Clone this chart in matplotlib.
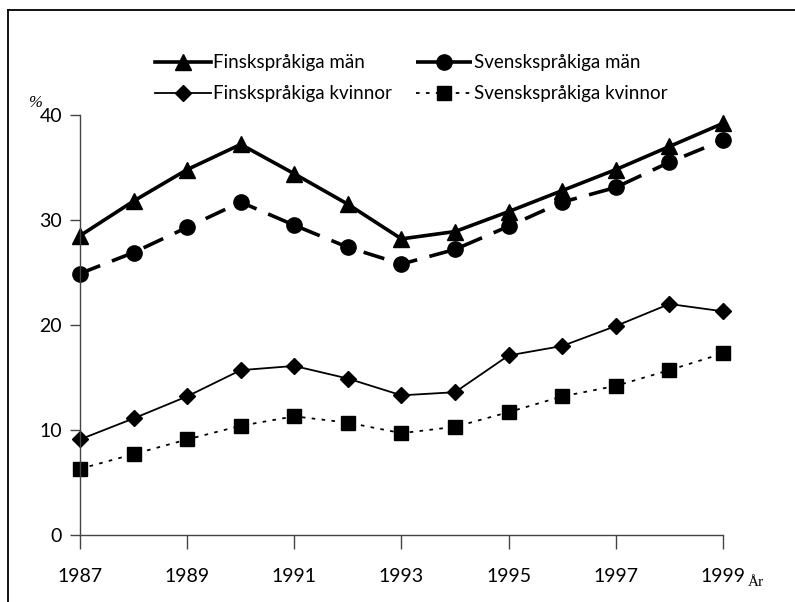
import matplotlib.pyplot as plt
from matplotlib.lines import Line2D

years = list(range(1987, 2000))
finsk_man = [28.5, 31.8, 34.8, 37.2, 34.4, 31.5, 28.2, 28.9, 30.8, 32.8, 34.8, 37.0, 39.2]
svensk_man = [24.9, 26.9, 29.3, 31.7, 29.5, 27.4, 25.8, 27.2, 29.4, 31.7, 33.1, 35.5, 37.6]
finsk_kvinnor = [9.1, 11.1, 13.2, 15.7, 16.1, 14.9, 13.3, 13.6, 17.1, 18.0, 19.9, 22.0, 21.3]
svensk_kvinnor = [6.3, 7.7, 9.1, 10.4, 11.3, 10.7, 9.7, 10.3, 11.7, 13.2, 14.2, 15.7, 17.3]

xticks = [1987, 1989, 1991, 1993, 1995, 1997, 1999]
yticks = [0, 10, 20, 30, 40]

plt.rcParams['font.family'] = ['Lato', 'DejaVu Sans']

fig = plt.figure(figsize=(7.95, 6.02), dpi=100)
ax = fig.add_axes([0.1006, 0.1113, 0.8088, 0.6977])

fm, = ax.plot(years, finsk_man, color='black', lw=2.6, marker='^', ms=11,
              label='Finskspråkiga män', clip_on=False)
sm, = ax.plot(years, svensk_man, color='black', lw=2.6, ls=(0, (6, 3.5)), marker='o', ms=11,
              label='Svenskspråkiga män', clip_on=False)
fk, = ax.plot(years, finsk_kvinnor, color='black', lw=1.3, marker='D', ms=8,
              label='Finskspråkiga kvinnor', clip_on=False)
sk, = ax.plot(years, svensk_kvinnor, color='black', lw=1.3, ls=(0, (2, 3.5)), marker='s', ms=10,
              label='Svenskspråkiga kvinnor', clip_on=False)

ax.set_xlim(1987, 1999)
ax.set_ylim(0, 40)
ax.set_xticks(xticks)
ax.set_yticks(yticks)
ax.tick_params(axis='x', direction='out', length=10, width=1, color='#444444',
               pad=14, labelsize=14)
ax.tick_params(axis='y', direction='out', length=7, width=1, color='#444444',
               pad=6, labelsize=14)
for s in ['top', 'right']:
    ax.spines[s].set_visible(False)
for s in ['left', 'bottom']:
    ax.spines[s].set_color('#444444')
    ax.spines[s].set_linewidth(1)

# column-wise fill -> order so rows read män / kvinnor
handles = [fm, fk, sm, sk]
ax.legend(handles, [h.get_label() for h in handles], ncol=2, loc='lower left',
          bbox_to_anchor=(0.09, 0.99), frameon=False, fontsize=13.5,
          handlelength=3.0, handletextpad=0.1, columnspacing=1.3, labelspacing=0.75)

fig.text(28 / 795, 1 - 103 / 602, '%', family='Liberation Serif', style='italic',
         fontsize=12, ha='left', va='center')
fig.text(748 / 795, 1 - 583 / 602, 'År', family='Liberation Serif',
         fontsize=11, ha='left', va='center')

fig.add_artist(Line2D([0.01, 0.01], [0, 0.983], color='black', lw=1.3,
                      transform=fig.transFigure))
fig.add_artist(Line2D([0.01, 1.0], [0.983, 0.983], color='black', lw=1.3,
                      transform=fig.transFigure))

fig.savefig('out.png', dpi=100)
